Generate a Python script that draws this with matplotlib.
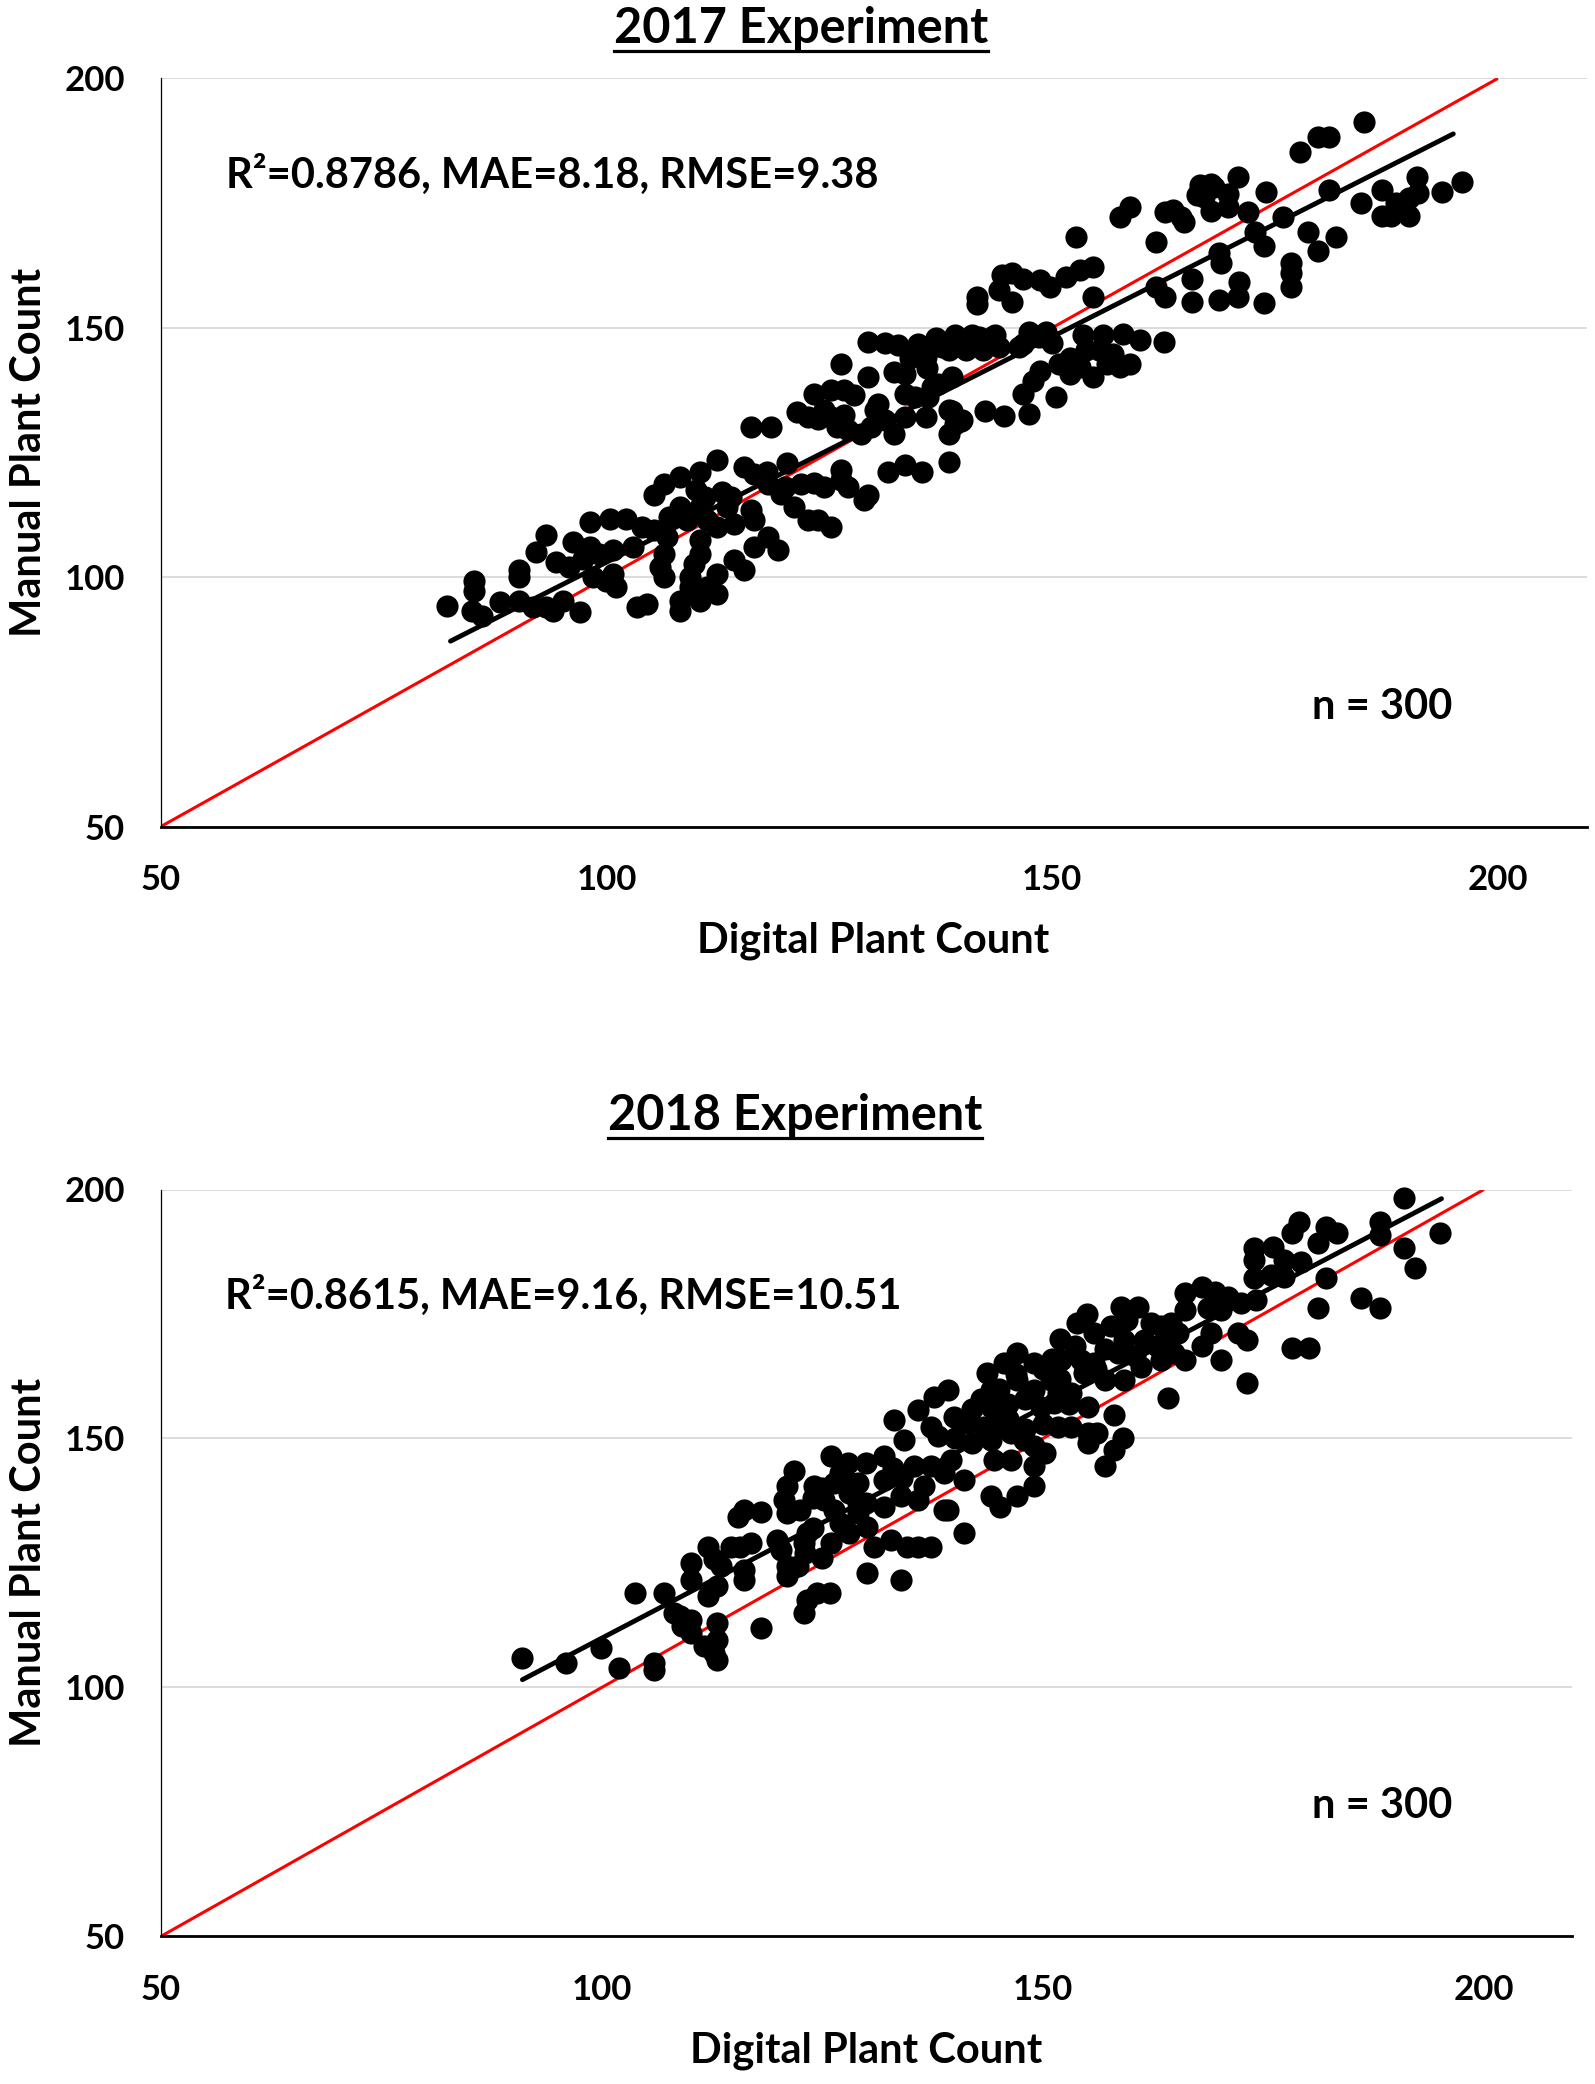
import numpy as np
import matplotlib
matplotlib.use("Agg")
import matplotlib.pyplot as plt
from matplotlib.lines import Line2D

plt.rcParams['font.family'] = ['Lato', 'DejaVu Sans']
plt.rcParams['font.weight'] = 'bold'

# ---------------- 2017 data (digital count, manual count) ----------------
dig17 = [82.1, 85.1, 85.1, 84.9, 86.0, 88.1, 90.2, 91.7, 93.2, 95.1,
         97.0, 94.0, 90.2, 90.2, 92.1, 93.2, 94.3, 95.8, 96.2, 98.1,
         97.4, 98.5, 100.0, 101.1, 100.7, 99.2, 100.7, 103.0, 98.1, 100.4,
         102.2, 103.4, 104.5, 105.3, 106.4, 108.3, 110.5, 112.4, 115.4, 116.6,
         105.3, 106.4, 106.8, 106.0, 106.4, 108.3, 109.0, 110.5, 111.3, 112.4,
         109.4, 109.4, 108.3, 108.3, 110.5, 111.3, 112.4, 110.5, 110.5, 109.8,
         112.4, 114.3, 115.4, 116.6, 118.1, 119.2, 120.3, 121.8, 121.0, 122.6,
         118.1, 119.6, 113.5, 114.3, 116.2, 116.6,
         129.3, 131.2, 132.7, 126.3, 129.3, 132.3, 130.5, 130.1, 131.2, 132.3,
         129.7, 128.6, 123.3, 125.2, 126.7, 127.8, 124.4, 121.4, 122.6, 123.7,
         125.2, 126.7, 125.9, 127.1, 116.2, 118.4, 131.6, 126.3, 126.3, 123.3,
         124.4, 127.1, 129.3, 128.9, 125.2, 123.7, 138.4, 133.5, 135.4,
         166.6, 166.3, 167.0, 158.7, 157.6, 152.7, 162.7, 163.6, 164.4, 164.8,
         161.6, 154.6, 153.1, 151.6, 144.4, 145.5, 146.7, 148.6, 149.7, 144.0,
         145.5, 141.6, 141.6, 154.6, 165.7, 165.7, 161.6, 162.7, 139.1, 141.0,
         143.3, 137.6, 138.4, 140.3, 142.2, 135.0, 135.8, 133.5, 138.8, 136.5,
         134.6, 133.5, 135.8, 138.8, 139.1, 139.8, 147.4, 149.3, 146.7, 153.5,
         155.7, 158.0, 159.9, 162.5, 153.8, 155.3, 156.8, 158.7, 154.6, 148.6,
         147.8, 146.7, 147.4, 150.8, 150.4, 152.0, 153.1, 156.1, 157.6, 142.5,
         144.6, 137.2, 136.1, 133.5, 138.4, 139.9, 138.4, 144.0, 141.8, 143.6,
         148.5, 146.3,
         177.8, 179.8, 181.0, 185.0, 190.9, 196.0, 193.7, 187.0, 184.7, 187.0,
         188.0, 190.0, 188.6, 190.0, 191.0, 170.8, 168.2, 169.7, 172.0, 174.0,
         181.0, 175.9, 172.7, 173.8, 168.7, 178.7, 181.8, 179.8, 176.8, 176.8,
         176.8, 168.7, 170.8, 171.0, 173.8, 167.8, 167.8, 169.7, 168.9,
         137.0, 140.0, 134.0, 136.0, 113.0, 111.0, 107.0, 104.0, 118.0, 120.0,
         143.0, 150.0, 152.0, 110.0, 114.0]
man17 = [94.3, 99.3, 97.3, 93.3, 92.3, 95.0, 95.3, 94.0, 94.0, 95.3,
         93.0, 93.3, 101.4, 100.0, 105.0, 108.4, 103.0, 102.0, 107.0, 106.0,
         103.7, 100.0, 99.3, 98.0, 100.7, 104.7, 105.4, 106.0, 111.1, 111.7,
         111.7, 94.0, 94.7, 116.4, 118.7, 120.1, 121.1, 123.4, 122.1, 120.7,
         109.4, 104.7, 108.1, 102.0, 100.0, 114.1, 111.4, 114.1, 111.4, 110.1,
         100.0, 98.0, 95.3, 93.3, 95.3, 98.0, 96.7, 107.4, 104.7, 102.7,
         100.7, 103.4, 101.4, 106.0, 108.0, 105.4, 122.8, 118.7, 114.1, 111.4,
         118.7, 116.7, 114.1, 110.7, 113.4, 111.4,
         147.2, 146.9, 146.5, 142.8, 140.2, 141.2, 134.8, 133.5, 131.5, 128.8,
         130.1, 128.8, 136.8, 137.5, 137.5, 136.5, 133.5, 133.1, 132.1, 131.8,
         132.1, 132.5, 130.1, 129.5, 130.1, 130.1, 121.1, 121.4, 119.4, 118.8,
         118.1, 118.1, 116.4, 115.4, 110.1, 111.4, 123.1, 122.4, 121.1,
         178.6, 176.6, 176.2, 174.2, 172.2, 168.2, 173.2, 173.6, 172.2, 171.2,
         167.2, 162.2, 161.5, 160.2, 160.5, 160.9, 159.8, 159.5, 158.2, 157.5,
         155.2, 156.2, 154.8, 156.2, 159.8, 155.2, 158.2, 156.2, 148.5, 148.5,
         148.1, 146.1, 145.5, 145.5, 145.5, 146.8, 144.1, 140.8, 140.1, 138.1,
         136.1, 132.1, 132.1, 133.4, 130.8, 131.4, 149.1, 149.1, 146.8, 148.5,
         148.5, 148.8, 147.5, 147.1, 145.5, 145.5, 144.8, 142.8, 140.1, 141.4,
         139.4, 136.8, 132.7, 142.8, 136.1, 140.8, 142.1, 142.8, 142.1, 133.4,
         132.4, 138.8, 136.2, 136.8, 133.5, 131.5, 128.8, 146.2, 148.2, 148.5,
         148.2, 146.2,
         185.3, 188.3, 188.3, 191.3, 180.3, 179.3, 177.3, 177.6, 175.0, 172.5,
         172.5, 172.5, 175.0, 176.0, 177.0, 180.3, 178.3, 174.3, 173.3, 177.3,
         177.6, 172.3, 169.3, 166.3, 165.0, 169.3, 168.3, 165.3, 162.9, 160.9,
         158.2, 155.5, 156.2, 159.2, 155.0, 173.5, 178.9, 176.9, 162.9,
         148.0, 147.0, 144.0, 142.0, 117.0, 116.0, 112.0, 110.0, 121.0, 118.0,
         147.0, 147.0, 144.0, 117.5, 116.0]

# ---------------- 2018 data ----------------
dig18 = [91.0, 95.9, 99.9, 101.9, 105.9, 105.9, 103.8, 107.0, 108.2, 109.1,
         110.1, 108.9, 110.1, 111.6, 112.7, 113.1, 113.1, 113.1, 118.0, 110.1,
         110.1, 112.0, 112.7, 112.0, 113.1, 113.5, 115.4, 116.1, 118.0, 114.6,
         115.7, 116.9, 116.1, 116.1, 119.9, 120.3, 121.0, 122.2, 121.0, 122.9,
         123.3, 124.4, 125.9, 121.8, 121.0, 120.7, 121.0, 122.5, 123.3, 122.9,
         124.1, 125.2, 126.0, 127.9, 126.3, 128.2, 126.3, 126.0, 127.5,
         129.0, 129.0, 130.1, 130.1, 133.9, 130.9, 132.8, 134.6, 135.8, 137.3,
         132.0, 133.1, 134.3, 132.0, 133.9, 132.0, 135.4, 135.8, 136.5, 137.3,
         138.8, 139.6, 141.1, 139.2, 141.1, 135.8, 137.7, 139.2, 137.3, 138.1,
         139.9, 141.5, 143.7, 144.1, 144.1, 145.6, 147.1, 149.0, 147.1, 149.0,
         149.8, 150.9, 143.3, 144.1, 144.5, 146.4, 146.4, 147.9, 149.0, 150.2,
         149.0, 149.0, 147.1, 144.1, 145.2, 157.0, 138.8,
         191.0, 188.2, 188.2, 195.0, 191.0, 192.2, 186.1, 188.2, 182.1, 181.2,
         178.2, 180.2, 173.2, 179.1, 178.2, 182.1, 183.3, 181.2, 174.0, 176.1,
         174.0, 177.4, 179.3, 174.0, 175.9, 177.4, 166.1, 168.1, 169.5, 171.0,
         172.5, 174.2, 166.1, 168.7, 170.2, 172.1, 173.2, 169.1, 168.0, 170.2,
         166.1, 164.2, 158.9, 160.8, 159.6, 162.3, 163.4, 164.5, 153.9, 155.8,
         157.7, 159.2, 161.5, 163.0, 164.2, 165.3, 164.9, 152.1, 153.6, 154.3,
         155.8, 158.5, 160.4, 161.1, 163.4, 154.7, 157.0, 159.2, 153.2, 155.1,
         151.7, 151.3, 158.1, 151.7, 153.2, 155.1, 156.2, 155.1, 159.1, 158.1,
         145.0, 146.0, 147.0, 148.0, 150.0, 151.0, 152.0, 150.0, 148.0, 146.0,
         142.0, 140.0, 142.0, 143.0, 145.0, 152.0, 155.0, 157.0, 156.0, 153.0,
         124.0, 125.0, 127.0, 128.0, 129.0, 130.0, 127.0, 124.0, 123.0, 125.0,
         128.0, 130.0, 133.0, 134.0]
man18 = [105.9, 104.9, 107.9, 103.9, 104.9, 103.6, 119.0, 119.0, 115.0, 112.3,
         111.0, 114.3, 113.6, 108.3, 106.9, 105.6, 109.6, 112.9, 111.9, 125.0,
         121.6, 128.3, 125.7, 118.3, 120.3, 124.3, 134.3, 135.7, 135.3, 128.3,
         128.3, 129.0, 123.6, 121.6, 129.7, 127.7, 124.3, 124.3, 122.3, 114.9,
         117.6, 119.0, 119.0, 143.4, 140.4, 137.7, 135.0, 135.7, 131.0, 129.0,
         140.4, 137.7, 146.4, 145.1, 141.0, 141.0, 135.7, 129.0, 132.3,
         141.0, 135.0, 132.3, 123.0, 121.6, 128.3, 129.7, 128.3, 128.3, 128.3,
         146.4, 153.7, 149.7, 141.7, 138.4, 136.3, 144.4, 137.7, 140.4, 144.4,
         143.1, 145.7, 141.7, 135.7, 131.0, 155.7, 158.4, 159.8, 152.4, 150.4,
         154.4, 153.1, 163.1, 159.8, 156.4, 165.1, 167.1, 165.1, 161.8, 159.8,
         156.4, 161.8, 152.4, 149.7, 145.7, 151.1, 145.7, 149.7, 148.4, 147.1,
         144.4, 140.4, 138.4, 138.4, 136.3, 144.4, 135.7,
         198.2, 193.5, 190.9, 191.2, 188.2, 184.2, 178.2, 176.2, 182.2, 176.2,
         168.1, 168.1, 161.1, 193.5, 191.2, 192.5, 191.2, 189.2, 188.2, 188.5,
         185.9, 185.9, 185.5, 182.2, 182.9, 182.5, 179.2, 180.5, 179.5, 178.5,
         177.2, 177.8, 175.8, 176.2, 175.8, 171.1, 169.8, 171.1, 168.5, 165.8,
         165.8, 158.1, 176.5, 176.5, 173.8, 173.1, 172.5, 173.1, 173.1, 171.1,
         172.5, 169.8, 169.8, 168.5, 169.1, 171.1, 167.1, 165.8, 168.5, 165.8,
         165.1, 167.1, 166.5, 164.4, 165.8, 163.1, 161.8, 161.8, 159.1, 156.4,
         159.1, 157.1, 154.7, 152.4, 152.4, 151.1, 151.1, 149.1, 150.1, 147.7,
         160.0, 157.0, 163.0, 158.0, 164.0, 166.0, 162.0, 153.0, 152.0, 154.0,
         149.0, 150.0, 156.0, 158.0, 153.0, 170.0, 175.0, 168.0, 164.0, 157.0,
         138.0, 140.0, 143.0, 139.0, 137.0, 137.0, 133.0, 132.0, 127.0, 126.0,
         131.0, 145.0, 144.0, 142.0]

# trendlines: (x start, x end, slope, intercept)
trend17 = [82.5, 195.0, 0.904, 12.6]
trend18 = [91.0, 195.2, 0.927, 17.2]

titles = ["2017 Experiment", "2018 Experiment"]
stats = ["R\u00b2=0.8786, MAE=8.18, RMSE=9.38", "R\u00b2=0.8615, MAE=9.16, RMSE=10.51"]
n_text = "n = 300"
xlabel = "Digital Plant Count"
ylabel = "Manual Plant Count"
ticks = [50, 100, 150, 200]

W, H = 1595, 2084
fig = plt.figure(figsize=(W / 100, H / 100), dpi=100)

ax1 = fig.add_axes([160.8 / W, 1 - 826.6 / H, (1587 - 160.8) / W, (826.6 - 78.4) / H])
ax2 = fig.add_axes([160.8 / W, 1 - 1936.4 / H, (1572 - 160.8) / W, (1936.4 - 1189.5) / H])


def panel(ax, dx, my, tr, stat, n_pos, stat_y):
    ax.set_xlim(50, 210)
    ax.set_ylim(50, 200)
    ax.set_xticks(ticks)
    ax.set_yticks(ticks)
    ax.set_xticklabels([str(t) for t in ticks])
    ax.set_yticklabels([str(t) for t in ticks])
    ax.tick_params(axis='both', length=0, labelsize=25)
    ax.tick_params(axis='x', pad=27)
    ax.tick_params(axis='y', pad=26)
    for lab in ax.get_xticklabels() + ax.get_yticklabels():
        lab.set_fontweight('bold')
    ax.grid(axis='y', color='#D9D9D9', lw=1.3)
    ax.set_axisbelow(True)
    for s in ['top', 'right']:
        ax.spines[s].set_visible(False)
    ax.spines['left'].set_color('black')
    ax.spines['left'].set_linewidth(0.9)
    ax.spines['bottom'].set_color('black')
    ax.spines['bottom'].set_linewidth(2.0)
    ax.spines['bottom'].set_zorder(5)
    # 1:1 line
    ax.plot([50, 200], [50, 200], color='#FF0000', lw=2.2, zorder=2,
            solid_capstyle='butt')
    # trendline
    xs = np.array([tr[0], tr[1]])
    ax.plot(xs, tr[2] * xs + tr[3], color='black', lw=3.5, zorder=2.5,
            solid_capstyle='round')
    ax.scatter(dx, my, s=255, c='black', linewidths=0, zorder=3, clip_on=False)
    ax.text(0.0457, stat_y, stat, transform=ax.transAxes, ha='left',
            va='baseline', fontsize=30, fontweight='bold')
    ax.text(n_pos[0], n_pos[1], n_text, transform=ax.transAxes, ha='center',
            va='baseline', fontsize=30, fontweight='bold')


panel(ax1, dig17, man17, trend17, stats[0], (0.8563, 0.1438), 0.8535)
panel(ax2, dig18, man18, trend18, stats[1], (0.8654, 0.1585), 0.840)

t1 = fig.text(801 / W, 1 - 43 / H, titles[0], ha='center', va='baseline',
              fontsize=35, fontweight='bold')
t2 = fig.text(795 / W, 1 - 1130 / H, titles[1], ha='center', va='baseline',
              fontsize=35, fontweight='bold')

fig.text(873 / W, 1 - 952 / H, xlabel, ha='center', va='baseline',
         fontsize=30, fontweight='bold')
fig.text(866.5 / W, 1 - 2063 / H, xlabel, ha='center', va='baseline',
         fontsize=30, fontweight='bold')
fig.text(29 / W, 1 - 452 / H, ylabel, ha='center', va='center', rotation=90,
         fontsize=30, fontweight='bold')
fig.text(29 / W, 1 - 1562 / H, ylabel, ha='center', va='center', rotation=90,
         fontsize=30, fontweight='bold')

# underline the titles
fig.canvas.draw()
r = fig.canvas.get_renderer()
for t, base in ((t1, 43), (t2, 1130)):
    bb = t.get_window_extent(r)
    yline = 1 - (base + 8) / H
    fig.add_artist(Line2D([bb.x0 / W, bb.x1 / W], [yline, yline],
                          transform=fig.transFigure, color='black', lw=2.3))

fig.savefig("out.png", dpi=100)
